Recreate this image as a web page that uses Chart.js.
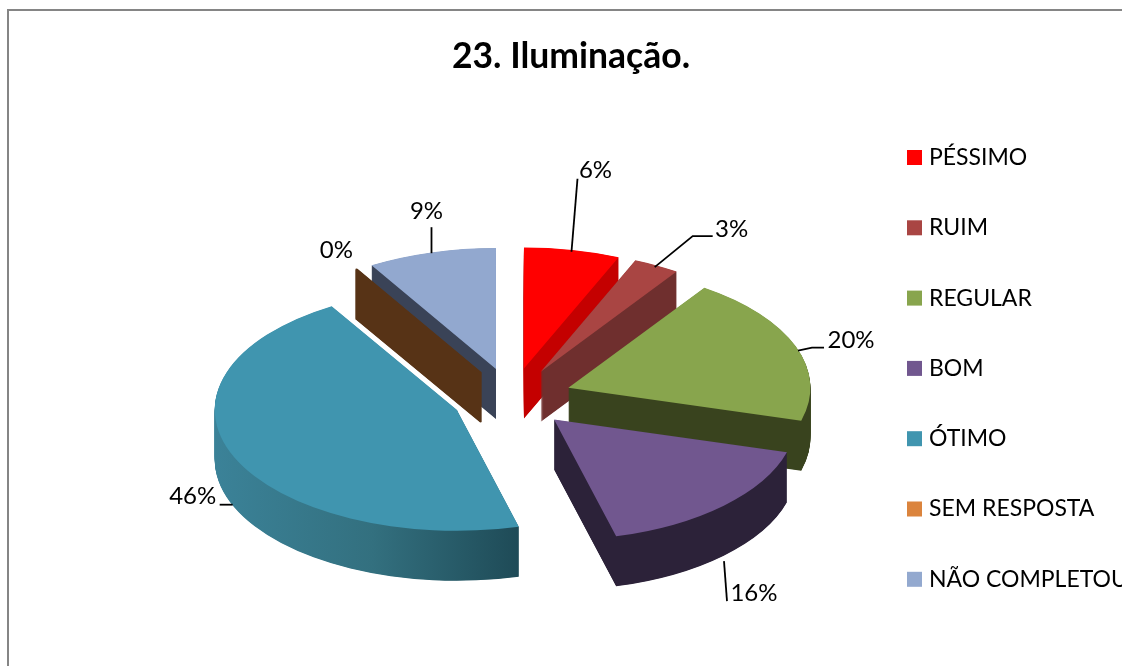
<!DOCTYPE html>
<html>
<head>
<meta charset="utf-8">
<title>23. Iluminação.</title>
<script src="https://cdn.jsdelivr.net/npm/chart.js@4/dist/chart.umd.min.js"></script>
<style>
html, body { margin: 0; padding: 0; background: #fff; overflow: hidden; }
#frame { position: absolute; left: 7px; top: 9px; width: 1300px; height: 900px; border: 2px solid #858585; box-sizing: border-box; }
canvas { position: absolute; left: 0; top: 0; }
</style>
</head>
<body>
<div id="frame"></div>
<canvas id="chart" width="1122" height="666"></canvas>
<script>
var categories = ['PÉSSIMO', 'RUIM', 'REGULAR', 'BOM', 'ÓTIMO', 'SEM RESPOSTA', 'NÃO COMPLETOU'];
var values = [6.4, 3.1, 19.9, 16.49, 45.5, 0.05, 8.6];
var percentLabels = ['6%', '3%', '20%', '16%', '46%', '0%', '9%'];

var topColors = ['#ff0000', '#a94543', '#88a54d', '#71578f', '#4095af', '#db843d', '#92a8cf'];
var sideColors = ['#c40000', '#6f2f2e', '#39431e', '#2c2239', ['#3b8298', '#33707f', '#1d4854'], '#573316', '#3a4357'];

// 3d look: squash the pie, pull the slices apart, extrude downwards
var PIE_X = 512, PIE_Y = 398;
var RADIUS = 242;
var SQUASH = 121 / 242;
var EXPLODE = 60;
var DEPTH = 50;
var DRAW_ORDER = [6, 5, 0, 1, 2, 3, 4]; // back to front

// label placement relative to the middle of each slice's rim
var LABEL_RIM = 298;
var labelPlaces = [
  { text: [24, -81], line: [[0, 1], [6, -72]] },
  { text: [77, -37], line: [[0, 1], [38, -30], [58, -30]] },
  { text: [59, -6], line: [[6, 4], [20, 1], [32, 1]] },
  { text: [33, 88], line: [[3, 56], [6, 96]] },
  { text: [-45, 40], line: [[-5, 48], [-18, 48]] },
  { text: [-22, -19], line: [] },
  { text: [-6, -42], line: [[-1, 0], [-1, -26]] }
];

function placeSlice(ctx, arc, dz) {
  var mid = (arc.startAngle + arc.endAngle) / 2;
  ctx.translate(PIE_X, PIE_Y + dz);
  ctx.scale(1, SQUASH);
  ctx.translate(Math.cos(mid) * EXPLODE, Math.sin(mid) * EXPLODE);
  ctx.translate(-arc.x, -arc.y);
}

function sideFill(ctx, arc, color) {
  if (typeof color === 'string') return color;
  var grad = ctx.createLinearGradient(arc.x - RADIUS, 0, arc.x + RADIUS * 0.3, 0);
  for (var i = 0; i < color.length; i++) {
    grad.addColorStop(i / (color.length - 1), color[i]);
  }
  return grad;
}

// sweep the slice on its own layer, then recolour it in one go.
// painting the colour straight on the chart leaves stripes from edge blending
function drawSide(ctx, layer, arc, color) {
  var lctx = layer.getContext('2d');
  var shape = Object.create(arc);
  // only the nearly empty slice needs a stroke to stay solid
  shape.options = Object.assign({}, arc.options, {
    backgroundColor: '#000',
    borderColor: '#000',
    borderWidth: arc.circumference < 0.01 ? 2 : 0
  });
  lctx.clearRect(0, 0, layer.width, layer.height);
  for (var dz = DEPTH; dz > 0; dz -= 0.5) {
    lctx.save();
    placeSlice(lctx, arc, dz);
    shape.draw(lctx);
    lctx.restore();
  }
  lctx.save();
  lctx.globalCompositeOperation = 'source-in';
  placeSlice(lctx, arc, 0);
  lctx.fillStyle = sideFill(lctx, arc, color);
  lctx.fillRect(-2000, -2000, 5000, 5000);
  lctx.restore();
  ctx.drawImage(layer, 0, 0);
}

var pie3d = {
  id: 'pie3d',
  beforeDatasetsDraw: function(chart) {
    var ctx = chart.ctx;
    var arcs = chart.getDatasetMeta(0).data;
    var layer = document.createElement('canvas');
    layer.width = chart.width;
    layer.height = chart.height;
    DRAW_ORDER.forEach(function(i) {
      var arc = arcs[i];
      drawSide(ctx, layer, arc, sideColors[i]);
      if (arc.circumference < 0.01) return; // no visible top face
      ctx.save();
      placeSlice(ctx, arc, 0);
      arc.draw(ctx);
      ctx.restore();
    });
    return false; // slices are done, skip the normal pass
  },
  afterDraw: function(chart) {
    var ctx = chart.ctx;
    var arcs = chart.getDatasetMeta(0).data;
    ctx.save();
    ctx.font = '24px Lato';
    ctx.fillStyle = '#000';
    ctx.strokeStyle = '#000';
    ctx.lineWidth = 1.8;
    ctx.textAlign = 'center';
    ctx.textBaseline = 'middle';
    arcs.forEach(function(arc, i) {
      var mid = (arc.startAngle + arc.endAngle) / 2;
      var rimX = PIE_X + Math.cos(mid) * LABEL_RIM;
      var rimY = PIE_Y + Math.sin(mid) * LABEL_RIM * 120 / 238;
      var place = labelPlaces[i];
      if (place.line.length) {
        ctx.beginPath();
        place.line.forEach(function(p, n) {
          if (n == 0) ctx.moveTo(rimX + p[0], rimY + p[1]);
          else ctx.lineTo(rimX + p[0], rimY + p[1]);
        });
        ctx.stroke();
      }
      ctx.fillText(percentLabels[i], rimX + place.text[0], rimY + place.text[1]);
    });
    // legend: the gap between box and text is tighter than the built in one allows
    ctx.font = '23px Lato';
    ctx.textAlign = 'left';
    categories.forEach(function(name, i) {
      var y = 157.5 + i * 70.3;
      ctx.fillStyle = i == 6 ? '#93a9cf' : topColors[i];
      ctx.fillRect(907, y - 7.5, 15, 15);
      ctx.fillStyle = '#000';
      ctx.fillText(name, 929, y);
    });
    ctx.restore();
  }
};

new Chart(document.getElementById('chart'), {
  type: 'pie',
  data: {
    labels: categories,
    datasets: [{
      data: values,
      backgroundColor: topColors,
      borderWidth: 0,
      radius: RADIUS
    }]
  },
  options: {
    responsive: false,
    animation: false,
    layout: { padding: { left: 20, top: 25 } },
    plugins: {
      legend: { display: false },
      tooltip: { enabled: false },
      title: {
        display: true,
        text: '23. Iluminação.',
        color: '#000',
        font: { family: 'Lato', size: 35.5, weight: 'bold' }
      }
    }
  },
  plugins: [pie3d]
});
</script>
</body>
</html>
